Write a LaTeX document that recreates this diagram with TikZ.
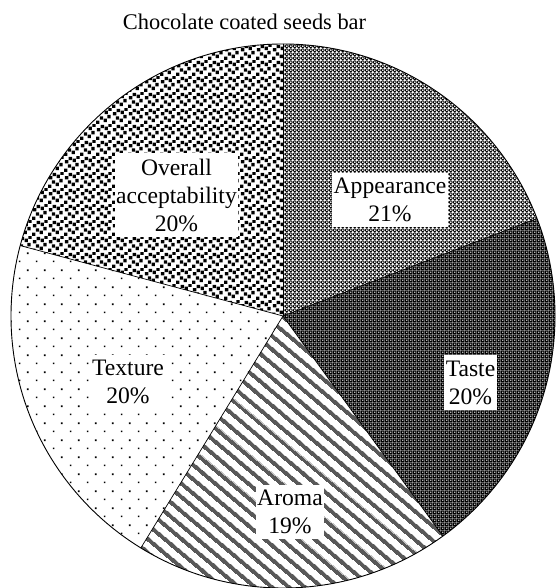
\documentclass[tikz,border=0pt]{standalone}
\usepackage{fontspec}
\setmainfont{Liberation Serif}
\usetikzlibrary{patterns.meta}

% fill patterns of the five slices
\tikzdeclarepattern{
  name=appearmesh,
  type=uncolored,
  bottom left={(0pt,0pt)}, top right={(4.2pt,4.2pt)},
  tile size={(4.2pt,4.2pt)},
  code={
    \fill[even odd rule] (1.48pt,0pt) -- (2.72pt,0pt) -- (4.2pt,1.48pt) -- (4.2pt,2.72pt)
      -- (2.72pt,4.2pt) -- (1.48pt,4.2pt) -- (0pt,2.72pt) -- (0pt,1.48pt) -- cycle
      (0.62pt,2.1pt) -- (2.1pt,0.62pt) -- (3.58pt,2.1pt) -- (2.1pt,3.58pt) -- cycle;
  }
}
\tikzdeclarepattern{
  name=tastegrid,
  type=uncolored,
  bottom left={(0pt,0pt)}, top right={(4.2pt,4.2pt)},
  tile size={(4.2pt,4.2pt)},
  code={
    \fill[even odd rule] (0pt,0pt) rectangle (4.2pt,4.2pt) (1.3pt,1.3pt) rectangle (2.9pt,2.9pt);
  }
}
\tikzdeclarepattern{
  name=aromastripes,
  type=uncolored,
  bottom left={(0pt,0pt)}, top right={(1pt,11pt)},
  tile size={(1pt,11pt)},
  tile transformation={rotate=-40},
  code={
    \fill (-0.1pt,0pt) rectangle (1.1pt,4.4pt);
  }
}
\tikzdeclarepattern{
  name=texturedots,
  type=uncolored,
  bottom left={(0pt,0pt)}, top right={(17pt,17pt)},
  tile size={(17pt,17pt)},
  code={
    \fill (3pt,3pt) rectangle +(1.7pt,1.7pt);
    \fill (11.5pt,11.5pt) rectangle +(1.7pt,1.7pt);
  }
}
\tikzdeclarepattern{
  name=overallconfetti,
  type=uncolored,
  bottom left={(0pt,0pt)}, top right={(16pt,16pt)},
  tile size={(16pt,16pt)},
  code={
    \foreach \px/\py in {0/0, 8/2, 4/4.5, 12/6, 1/9, 9/10.5, 5/12.5, 13/14}
      \fill (\px pt,\py pt) rectangle +(3.6pt,3.6pt);
  }
}

\begin{document}
\begin{tikzpicture}[x=1pt, y=1pt, line join=round,
    lbl/.style={fill=white, inner xsep=1.5pt, inner ysep=5.5pt, align=center,
      font=\fontsize{23.6}{28}\selectfont}]
    \useasboundingbox (0,0) rectangle (557,588);

    % centre of the pie
    \coordinate (O) at (283,272);

    % slices, clockwise from the top
    \fill[pattern=appearmesh] (O) -- ++(90:272) arc (90:21:272) -- cycle;
    \fill[pattern=tastegrid] (O) -- ++(21:272) arc (21:-54:272) -- cycle;
    \fill[pattern=aromastripes] (O) -- ++(-54:272) arc (-54:-121.5:272) -- cycle;
    \fill[pattern=texturedots] (O) -- ++(-121.5:272) arc (-121.5:-195:272) -- cycle;
    \fill[pattern=overallconfetti] (O) -- ++(165:272) arc (165:90:272) -- cycle;

    % outline and dividers
    \draw[line width=0.9pt] (O) circle (272);
    \foreach \a in {90, 21, -54, -121.5, 165}
      \draw[line width=0.7pt] (O) -- +(\a:272);

    % labels
    \node[font=\fontsize{22.4}{26}\selectfont] (title) at (244.5,566) {Chocolate coated seeds bar};
    \node[lbl] (appear) at (390,388) {Appearance\\21\%};
    \node[lbl] (taste) at (470.5,205.5) {Taste\\20\%};
    \node[lbl] (aroma) at (290,76) {Aroma\\19\%};
    \node[lbl] (texture) at (128,206) {Texture\\20\%};
    \node[lbl] (overall) at (176.5,393) {Overall\\acceptability\\20\%};
\end{tikzpicture}
\end{document}
